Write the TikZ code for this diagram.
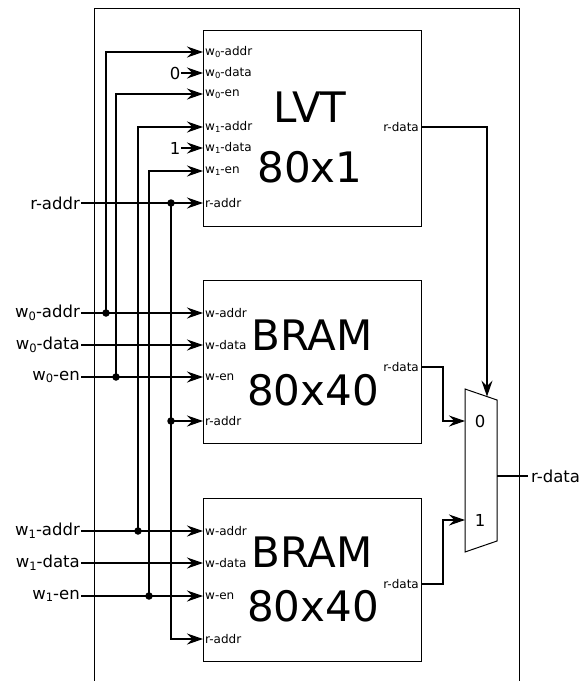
\documentclass[tikz,border=0pt]{standalone}
\usepackage{fontspec}
\usepackage{graphicx}
\setmainfont{DejaVu Sans}
\usetikzlibrary{arrows.meta,calc}
\newcommand\lsub[1]{\raisebox{-0.3ex}{\scalebox{0.7}{#1}}}
\begin{document}
\begin{tikzpicture}[x=1pt,y=-1pt,
  wire/.style={line width=1.2pt},
  arr/.style={wire,-{Stealth[length=16pt,width=11pt,inset=5.5pt]}},
  blk/.style={draw,line width=1pt,minimum width=218pt,inner sep=0},
  port/.style={font=\fontsize{12}{14}\selectfont,inner xsep=2pt,inner ysep=0},
  big/.style={font=\fontsize{42}{50}\selectfont,anchor=base,inner sep=0},
  ext/.style={font=\fontsize{16.5}{19}\selectfont,inner sep=1pt},
  dot/.style={circle,fill,inner sep=0,minimum size=7.5pt},
]
\useasboundingbox (0,0) rectangle (585,681);
% outer frame
\draw[line width=1pt] (94,681) -- (94,8) -- (519,8) -- (519,681);
% blocks
\node[blk,minimum height=196pt] (lvt) at (312,128) {};
\node[blk,minimum height=163pt] (b1) at (312,361.5) {};
\node[blk,minimum height=163pt] (b2) at (312,579.5) {};
\node[big] at (310,122) {LVT};
\node[big] at (310,182) {80x1};
\node[big] at (312,350) {BRAM};
\node[big] at (313,405) {80x40};
\node[big] at (312,567) {BRAM};
\node[big] at (313,621) {80x40};
% LVT ports
\node[port,anchor=west] (lw0a) at (203,52) {w\lsub{0}-addr};
\node[port,anchor=west] (lw0d) at (203,73) {w\lsub{0}-data};
\node[port,anchor=west] (lw0e) at (203,94) {w\lsub{0}-en};
\node[port,anchor=west] (lw1a) at (203,127) {w\lsub{1}-addr};
\node[port,anchor=west] (lw1d) at (203,148) {w\lsub{1}-data};
\node[port,anchor=west] (lw1e) at (203,171) {w\lsub{1}-en};
\node[port,anchor=west] (lra) at (203,203) {r-addr};
\node[port,anchor=east] (lrd) at (421,127) {r-data};
% BRAM1 ports
\node[port,anchor=west] (b1wa) at (203,313) {w-addr};
\node[port,anchor=west] (b1wd) at (203,345) {w-data};
\node[port,anchor=west] (b1we) at (203,377) {w-en};
\node[port,anchor=west] (b1ra) at (203,421) {r-addr};
\node[port,anchor=east] (b1rd) at (421,367) {r-data};
% BRAM2 ports
\node[port,anchor=west] (b2wa) at (203,531) {w-addr};
\node[port,anchor=west] (b2wd) at (203,563) {w-data};
\node[port,anchor=west] (b2we) at (203,596) {w-en};
\node[port,anchor=west] (b2ra) at (203,639) {r-addr};
\node[port,anchor=east] (b2rd) at (421,584) {r-data};
% external inputs
\node[ext,anchor=east] (ira) at (81,203) {r-addr};
\node[ext,anchor=east] (iw0a) at (81,313) {w\lsub{0}-addr};
\node[ext,anchor=east] (iw0d) at (81,345) {w\lsub{0}-data};
\node[ext,anchor=east] (iw0e) at (81,377) {w\lsub{0}-en};
\node[ext,anchor=east] (iw1a) at (81,531) {w\lsub{1}-addr};
\node[ext,anchor=east] (iw1d) at (81,563) {w\lsub{1}-data};
\node[ext,anchor=east] (iw1e) at (81,596) {w\lsub{1}-en};
% constants
\node[ext,anchor=east,inner sep=0.5pt] (c0) at (181,73) {0};
\node[ext,anchor=east,inner sep=0.5pt] (c1) at (181,148) {1};
% dots
\node[dot] (dw0a) at (106,313) {};
\node[dot] (dw0e) at (116,377) {};
\node[dot] (dw1a) at (138,531) {};
\node[dot] (dw1e) at (149,596) {};
\node[dot] (dra) at (171,203) {};
\node[dot] (dra2) at (171,421) {};
% mux
\coordinate (m1) at (465,389);
\coordinate (m2) at (497,400);
\coordinate (m3) at (497,541);
\coordinate (m4) at (465,552);
\draw[line width=1pt] (m1) -- (m2) -- (m3) -- (m4) -- cycle;
\coordinate (mtop) at ($(m1)!0.6875!(m2)$);
\coordinate (mux0) at (465,421);
\coordinate (mux1) at (465,520);
\coordinate (mo) at (497,476);
\node[ext] at (480,421) {0};
\node[ext] at (480,520) {1};
\node[ext,anchor=west,inner xsep=3pt] (ord) at (528,476) {r-data};
% wires
\draw[arr] (ira.east) -- (lra.west);
\draw[arr] (iw0a.east) -- (b1wa.west);
\draw[arr] (iw0d.east) -- (b1wd.west);
\draw[arr] (iw0e.east) -- (b1we.west);
\draw[arr] (iw1a.east) -- (b2wa.west);
\draw[arr] (iw1d.east) -- (b2wd.west);
\draw[arr] (iw1e.east) -- (b2we.west);
\draw[arr] (dw0a.center) |- (lw0a.west);
\draw[arr] (dw0e.center) |- (lw0e.west);
\draw[arr] (dw1a.center) |- (lw1a.west);
\draw[arr] (dw1e.center) |- (lw1e.west);
\draw[arr] (dra.center) |- (b2ra.west);
\draw[arr] (dra2.center) -- (b1ra.west);
\draw[arr] (c0.east) -- (lw0d.west);
\draw[arr] (c1.east) -- (lw1d.west);
\draw[arr] (lrd.east) -| (mtop);
\draw[arr] (b1rd.east) -- ++(22,0) |- (mux0);
\draw[arr] (b2rd.east) -- ++(22,0) |- (mux1);
\draw[wire] (mo) -- (ord.west);
\end{tikzpicture}
\end{document}
